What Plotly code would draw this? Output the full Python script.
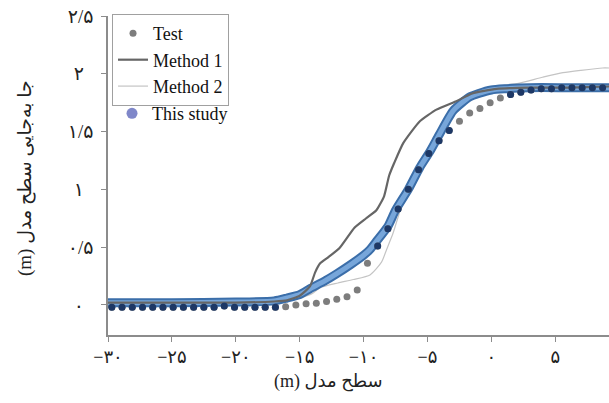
import numpy as np
import plotly.graph_objects as go

# ---------------- data ----------------
test_x = [-29.7, -28.9, -28.1, -27.3, -26.5, -25.7, -24.9, -24.1, -23.3, -22.5,
          -21.7, -20.9, -20.1, -19.3, -18.5, -17.7, -16.9, -16.1, -15.3, -14.5,
          -13.7, -12.9, -12.1, -11.3, -10.5, -9.7, -8.9, -8.1, -7.3, -6.5,
          -5.7, -4.9, -4.1, -3.3, -2.5, -1.7, -0.9, -0.1, 0.7, 1.5,
          2.3, 3.1, 3.9, 4.7, 5.5, 6.3, 7.1, 7.9, 8.7]
test_y = [-0.02, -0.02, -0.02, -0.02, -0.02, -0.02, -0.02, -0.02, -0.02, -0.02,
          -0.02, -0.01, -0.02, -0.02, -0.02, -0.02, -0.02, -0.015, 0.0, 0.01,
          0.015, 0.03, 0.05, 0.07, 0.13, 0.36, 0.51, 0.66, 0.83, 1.00,
          1.17, 1.31, 1.42, 1.51, 1.59, 1.66, 1.70, 1.75, 1.79, 1.82,
          1.84, 1.86, 1.87, 1.87, 1.88, 1.88, 1.88, 1.88, 1.88]

m1_x = [-30, -25, -20, -17, -16, -15, -14.2, -13.8, -13.4, -12.8, -11.9, -10.7,
        -9.8, -9.0, -8.4, -8.0, -7.6, -6.9, -5.6, -4.3, -2.8, -1.5, 0.4, 3, 6, 9.2]
m1_y = [0.02, 0.02, 0.02, 0.03, 0.04, 0.08, 0.16, 0.28, 0.36, 0.41, 0.49, 0.67,
        0.75, 0.82, 0.94, 1.12, 1.23, 1.40, 1.59, 1.69, 1.76, 1.83, 1.87, 1.88, 1.88, 1.89]

m2_x = [-30, -20, -16, -15, -14, -13.4, -12, -10.8, -9.5, -8.6, -8.2, -7.7,
        -7.0, -6.0, -5.0, -4.0, -3.0, -2.0, -1.0, 0, 1.0, 2.2, 4.0, 5.6, 7.0, 8.7, 9.2]
m2_y = [0.03, 0.03, 0.04, 0.06, 0.10, 0.15, 0.19, 0.22, 0.26, 0.37, 0.48, 0.62,
        0.86, 1.08, 1.30, 1.49, 1.65, 1.76, 1.83, 1.87, 1.90, 1.92, 1.97, 2.01, 2.03, 2.05, 2.05]

study_x = [-30, -25, -20, -17, -16, -15, -14.2, -13, -12.1, -11, -10, -9.5, -9.0,
           -8.1, -7.5, -6.5, -5.6, -4.8, -4.1, -3.0, -1.7, -1.0, 0, 1, 3, 6, 9.2]
study_y = [0.02, 0.02, 0.025, 0.035, 0.06, 0.09, 0.14, 0.21, 0.27, 0.35, 0.43, 0.48, 0.55,
           0.68, 0.82, 1.00, 1.19, 1.33, 1.47, 1.68, 1.80, 1.83, 1.86, 1.87, 1.88, 1.88, 1.88]

x_tick_vals = [-30, -25, -20, -15, -10, -5, 0, 5]
x_tick_text = ["\u2212۳۰", "\u2212۲۵", "\u2212۲۰", "\u2212۱۵", "\u2212۱۰", "\u2212۵", "۰", "۵"]
y_tick_vals = [0, 0.5, 1, 1.5, 2, 2.5]
y_tick_text = ["۰\u00a0\u00a0", "۰/۵", "۱\u00a0\u00a0", "۱/۵", "۲\u00a0\u00a0", "۲/۵"]

RLE, PDF = "\u202b", "\u202c"
x_title = RLE + "سطح مدل (m)" + PDF
y_title = RLE + "جا به‌جایی سطح مدل (m)" + PDF

# ---------------- layout constants ----------------
W, H = 609, 403
ML, MR, MT, MB = 108, 0, 16, 68
XR = [-30, 9.2]
YR = [-0.26, 2.5]
px_x = (W - ML - MR) / (XR[1] - XR[0])
px_y = (H - MT - MB) / (YR[1] - YR[0])

# test points lying on the "This study" band look dark navy in the reference
sx = np.linspace(study_x[0], study_x[-1], 3000)
sy = np.interp(sx, study_x, study_y)
on_band = []
for tx, ty in zip(test_x, test_y):
    d = np.min(np.hypot((sx - tx) * px_x, (sy - ty) * px_y))
    on_band.append(d < 7)
nav_x = [x for x, b in zip(test_x, on_band) if b]
nav_y = [y for y, b in zip(test_y, on_band) if b]

serif = "Liberation Serif, DejaVu Sans, serif"

fig = go.Figure()
fig.add_trace(go.Scatter(x=m2_x, y=m2_y, mode="lines", name="Method 2",
                         line=dict(color="#c4c4c4", width=1.2, shape="spline", smoothing=0.6),
                         legendrank=3, legend="legend"))
fig.add_trace(go.Scatter(x=study_x, y=study_y, mode="lines", showlegend=False,
                         line=dict(color="#3b6ea9", width=9, shape="spline", smoothing=0.6)))
fig.add_trace(go.Scatter(x=study_x, y=study_y, mode="lines", showlegend=False,
                         line=dict(color="#77a6da", width=5, shape="spline", smoothing=0.6)))
fig.add_trace(go.Scatter(x=m1_x, y=m1_y, mode="lines", name="Method 1",
                         line=dict(color="#666666", width=2.2, shape="spline", smoothing=0.5),
                         legendrank=2, legend="legend"))
fig.add_trace(go.Scatter(x=test_x, y=test_y, mode="markers", name="Test",
                         marker=dict(color="#7d7d7d", size=7),
                         legendrank=1, legend="legend"))
fig.add_trace(go.Scatter(x=nav_x, y=nav_y, mode="markers", showlegend=False,
                         marker=dict(color="#1d3866", size=7)))
fig.add_trace(go.Scatter(x=[None], y=[None], mode="markers", name="This study",
                         marker=dict(color="#7f87c9", size=11),
                         legend="legend2"))

fig.update_layout(
    width=W, height=H,
    margin=dict(l=ML, r=MR, t=MT, b=MB),
    paper_bgcolor="white", plot_bgcolor="white",
    font=dict(family=serif, size=17, color="#222"),
    legend=dict(x=0.008, y=1.006, xanchor="left", yanchor="top",
                bgcolor="white", bordercolor="#a0a0a0", borderwidth=1,
                font=dict(family=serif, size=18, color="#111"),
                tracegroupgap=0, itemwidth=30),
    legend2=dict(x=0.008, y=0.752, xanchor="left", yanchor="top",
                 bgcolor="rgba(0,0,0,0)", borderwidth=0,
                 font=dict(family=serif, size=18, color="#111")),
    xaxis=dict(range=XR, tickvals=x_tick_vals, ticktext=x_tick_text,
               showgrid=False, zeroline=False, showline=True, linecolor="#8c8c8c",
               linewidth=1.5, ticks="outside", ticklen=5, tickcolor="#8c8c8c",
               tickfont=dict(size=18, color="#222"), ticklabelstandoff=0),
    yaxis=dict(range=YR, tickvals=y_tick_vals, ticktext=y_tick_text,
               showgrid=False, zeroline=False, showline=True, linecolor="#8c8c8c",
               linewidth=1.5, ticks="outside", ticklen=5, tickcolor="#8c8c8c",
               tickfont=dict(size=19, color="#222"), ticklabelstandoff=4),
    annotations=[
        dict(text=x_title, xref="paper", yref="paper", x=(328 - ML) / (W - ML - MR),
             y=-(381 - (H - MB)) / (H - MT - MB), showarrow=False,
             xanchor="center", yanchor="middle", font=dict(size=18, color="#222")),
        dict(text=y_title, xref="paper", yref="paper", x=(25 - ML) / (W - ML - MR),
             y=((H - MB) - 178) / (H - MT - MB), showarrow=False, textangle=-90,
             xanchor="center", yanchor="middle", font=dict(size=19, color="#222")),
    ],
)

fig.write_html("out.html", config={"displayModeBar": False},
               post_script="document.body.style.margin='0';document.body.style.overflow='hidden';")
